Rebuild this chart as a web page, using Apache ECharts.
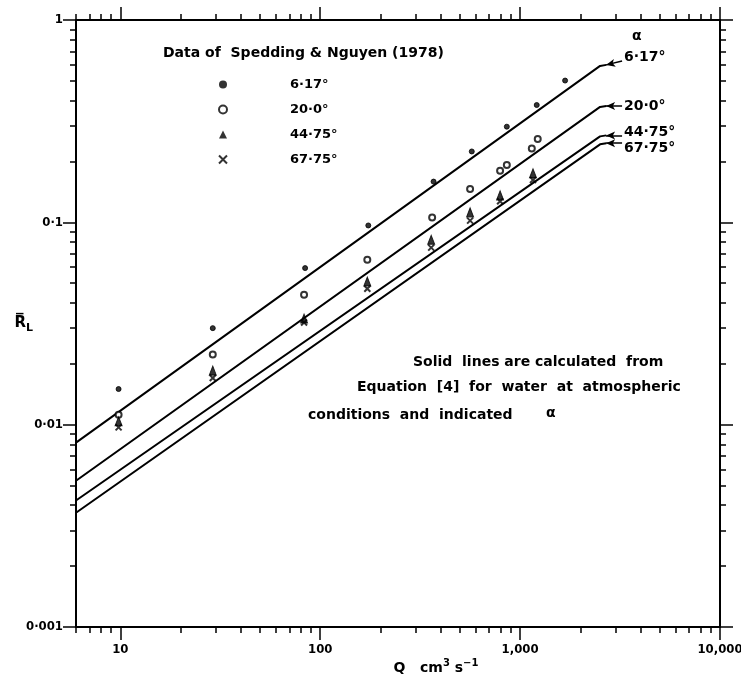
<!DOCTYPE html>
<html>
<head>
<meta charset="utf-8">
<script src="https://cdn.jsdelivr.net/npm/echarts@6/dist/echarts.min.js"></script>
<style>html,body{margin:0;padding:0;background:#fff}#main{width:741px;height:675px}</style>
</head>
<body>
<div id="main"></div>
<script>
var FONT = 'DejaVu Sans';
var TICKFONT = '"DejaVu Sans Condensed", "DejaVu Sans"';

// Spedding & Nguyen (1978) data, Q in cm3/s vs R_L
var qDot = [9.8, 29, 84, 174, 369, 573, 858, 1211, 1679];
var rDot = [0.015, 0.030, 0.0594, 0.0965, 0.159, 0.224, 0.297, 0.380, 0.502];

var qCircle = [9.8, 29, 83, 172, 363, 562, 794, 858, 1144, 1225];
var rCircle = [0.0112, 0.0222, 0.0439, 0.0653, 0.1056, 0.146, 0.180, 0.192, 0.232, 0.258];

var qTri = [9.8, 29, 83, 172, 359, 562, 794, 1160];
var rTri = [0.0104, 0.0185, 0.0335, 0.051, 0.082, 0.112, 0.136, 0.175];

var qCross = [9.8, 29, 83, 172, 359, 562, 794, 1160];
var rCross = [0.0097, 0.017, 0.032, 0.047, 0.075, 0.102, 0.127, 0.162];

// calculated lines (Equation [4])
var qLine = [6, 2512, 2700];
var rLine617 = [0.00815, 0.593, 0.600];
var rLine200 = [0.00528, 0.372, 0.376];
var rLine4475 = [0.00422, 0.266, 0.269];
var rLine6775 = [0.00367, 0.243, 0.246];

// label arrows: [Q, R] of tail and head
var arrow617 = [[3236, 0.627], [2692, 0.600]];
var arrow200 = [[3236, 0.376], [2692, 0.376]];
var arrow4475 = [[3236, 0.269], [2692, 0.269]];
var arrow6775 = [[3236, 0.246], [2692, 0.246]];

var angleNames = ['6·17°', '20·0°', '44·75°', '67·75°'];

// axes
var xMajor = [10, 100, 1000, 10000];
var xMinor = [6, 7, 8, 9, 20, 30, 40, 50, 60, 70, 80, 90, 200, 300, 400, 500, 600, 700, 800, 900,
              2000, 3000, 4000, 5000, 6000, 7000, 8000, 9000];
var xTickLabels = ['10', '100', '1,000', '10,000'];
var yMajor = [0.001, 0.01, 0.1, 1];
var yMinor = [0.002, 0.003, 0.004, 0.005, 0.006, 0.007, 0.008, 0.009,
              0.02, 0.03, 0.04, 0.05, 0.06, 0.07, 0.08, 0.09,
              0.2, 0.3, 0.4, 0.5, 0.6, 0.7, 0.8, 0.9];
var yTickLabels = ['0·001', '0·01', '0·1', '1'];

function lg(v) { return Math.log10(v); }
function pts(qs, rs) {
  return qs.map(function (q, i) { return [lg(q), lg(rs[i])]; });
}

var xMin = lg(6), xMax = lg(10000), yMin = lg(0.001), yMax = lg(1);

// four stacked grids with the same rect: one per tick set / side
var grids = [0, 1, 2, 3].map(function () {
  return { left: 76, right: 21, top: 20, bottom: 48, containLabel: false, outerBoundsMode: 'none' };
});

function xAxisDef(g, pos, ticks, len, line, labels) {
  return {
    gridIndex: g, type: 'value', position: pos, min: xMin, max: xMax,
    axisLine: { show: line, onZero: false, lineStyle: { color: '#000', width: 2 } },
    axisTick: { show: true, inside: false, length: len, customValues: ticks.map(lg), lineStyle: { color: '#000', width: 1.5 } },
    axisLabel: {
      show: labels, customValues: xMajor.map(lg), margin: 16,
      color: '#000', fontFamily: TICKFONT, fontWeight: 'bold', fontSize: 13,
      formatter: function (v) { return xTickLabels[Math.round(v) - 1]; }
    },
    splitLine: { show: false }
  };
}
function yAxisDef(g, pos, ticks, len, line, labels) {
  return {
    gridIndex: g, type: 'value', position: pos, min: yMin, max: yMax,
    axisLine: { show: line, onZero: false, lineStyle: { color: '#000', width: 2 } },
    axisTick: { show: true, inside: false, length: len, customValues: ticks.map(lg), lineStyle: { color: '#000', width: 1.5 } },
    axisLabel: {
      show: labels, customValues: yMajor.map(lg), margin: 13,
      color: '#000', fontFamily: TICKFONT, fontWeight: 'bold', fontSize: 13,
      formatter: function (v) { return yTickLabels[Math.round(v) + 3]; }
    },
    splitLine: { show: false }
  };
}

var xAxes = [
  xAxisDef(0, 'bottom', xMinor, 6, true, true),
  xAxisDef(1, 'bottom', xMajor, 13, false, false),
  xAxisDef(2, 'top', xMinor, 6, true, false),
  xAxisDef(3, 'top', xMajor, 13, false, false)
];
xAxes[0].name = 'Q   cm{sup|3} s{sup|−1}';
xAxes[0].nameLocation = 'middle';
xAxes[0].nameGap = 31;
xAxes[0].nameMoveOverlap = false;
xAxes[0].nameTextStyle = {
  color: '#000', fontFamily: FONT, fontWeight: 'bold', fontSize: 14, padding: [0, 0, 0, 76],
  rich: { sup: { fontFamily: FONT, fontWeight: 'bold', fontSize: 10, color: '#000', padding: [0, 0, 10, 0] } }
};

var yAxes = [
  yAxisDef(0, 'left', yMinor, 6, true, true),
  yAxisDef(1, 'left', yMajor, 13, false, false),
  yAxisDef(2, 'right', yMinor, 6, true, false),
  yAxisDef(3, 'right', yMajor, 13, false, false)
];
yAxes[0].name = 'R\u0305{sub|L}';
yAxes[0].nameLocation = 'middle';
yAxes[0].nameRotate = 0;
yAxes[0].nameGap = 43;
yAxes[0].nameMoveOverlap = false;
yAxes[0].nameTextStyle = {
  color: '#000', fontFamily: FONT, fontWeight: 'bold', fontSize: 15,
  rich: { sub: { fontFamily: FONT, fontWeight: 'bold', fontSize: 11, color: '#000', padding: [9, 0, 0, 0] } }
};

function calcLine(rs, arrow, label, dy) {
  return {
    name: 'calc ' + label, type: 'line', data: pts(qLine, rs),
    showSymbol: false, symbol: 'none', silent: true, z: 2,
    lineStyle: { color: '#000', width: 2 },
    markLine: {
      silent: true, animation: false,
      lineStyle: { color: '#000', width: 1.5, type: 'solid' },
      label: {
        show: true, position: 'start', distance: 2, offset: [0, dy], formatter: label,
        color: '#000', fontFamily: FONT, fontWeight: 'bold', fontSize: 14
      },
      data: [[
        { coord: [lg(arrow[0][0]), lg(arrow[0][1])], symbol: 'none' },
        { coord: [lg(arrow[1][0]), lg(arrow[1][1])], symbol: 'arrow', symbolSize: [6, 9] }
      ]]
    }
  };
}

var pointStyle = { color: '#000', borderColor: '#000' };

var option = {
  backgroundColor: '#fff',
  animation: false,
  grid: grids,
  title: {
    text: 'Data of  Spedding & Nguyen (1978)', left: 158, top: 41,
    textStyle: { color: '#000', fontFamily: FONT, fontWeight: 'bold', fontSize: 14 }
  },
  legend: {
    data: angleNames, orient: 'vertical', left: 213, top: 73,
    itemWidth: 8, itemHeight: 8, itemGap: 12,
    textStyle: { color: '#000', fontFamily: FONT, fontWeight: 'bold', fontSize: 13, padding: [0, 0, 0, 58] }
  },
  xAxis: xAxes,
  yAxis: yAxes,
  graphic: [
    { type: 'text', left: 413, top: 355, style: { text: 'Solid  lines are calculated  from', fill: '#000', font: 'bold 14px ' + FONT } },
    { type: 'text', left: 357, top: 380, style: { text: 'Equation  [4]  for  water  at  atmospheric', fill: '#000', font: 'bold 14px ' + FONT } },
    { type: 'text', left: 308, top: 408, style: { text: 'conditions  and  indicated', fill: '#000', font: 'bold 14px ' + FONT } },
    { type: 'text', left: 546, top: 406, style: { text: 'α', fill: '#000', font: 'bold 14px ' + FONT } },
    { type: 'text', left: 632, top: 29, style: { text: 'α', fill: '#000', font: 'bold 14px ' + FONT } }
  ],
  series: [
    calcLine(rLine617, arrow617, angleNames[0], -3),
    calcLine(rLine200, arrow200, angleNames[1], 0),
    calcLine(rLine4475, arrow4475, angleNames[2], -3),
    calcLine(rLine6775, arrow6775, angleNames[3], 5),
    {
      name: angleNames[0], type: 'scatter', data: pts(qDot, rDot), z: 5,
      symbol: 'circle', symbolSize: 5, itemStyle: pointStyle
    },
    {
      name: angleNames[1], type: 'scatter', data: pts(qCircle, rCircle), z: 5,
      symbol: 'emptyCircle', symbolSize: 6,
      itemStyle: { color: '#000', borderColor: '#000', borderWidth: 1.5 }
    },
    {
      name: angleNames[2], type: 'scatter', data: pts(qTri, rTri), z: 6,
      symbol: 'triangle', symbolSize: [7, 9], itemStyle: pointStyle
    },
    {
      name: angleNames[3], type: 'scatter', data: pts(qCross, rCross), z: 6,
      symbol: 'path://M0,0L10,10M10,0L0,10', symbolSize: 6,
      itemStyle: { color: '#000', borderColor: '#000', borderWidth: 2 }
    }
  ]
};

var chart = echarts.init(document.getElementById('main'));
chart.setOption(option);
</script>
</body>
</html>
